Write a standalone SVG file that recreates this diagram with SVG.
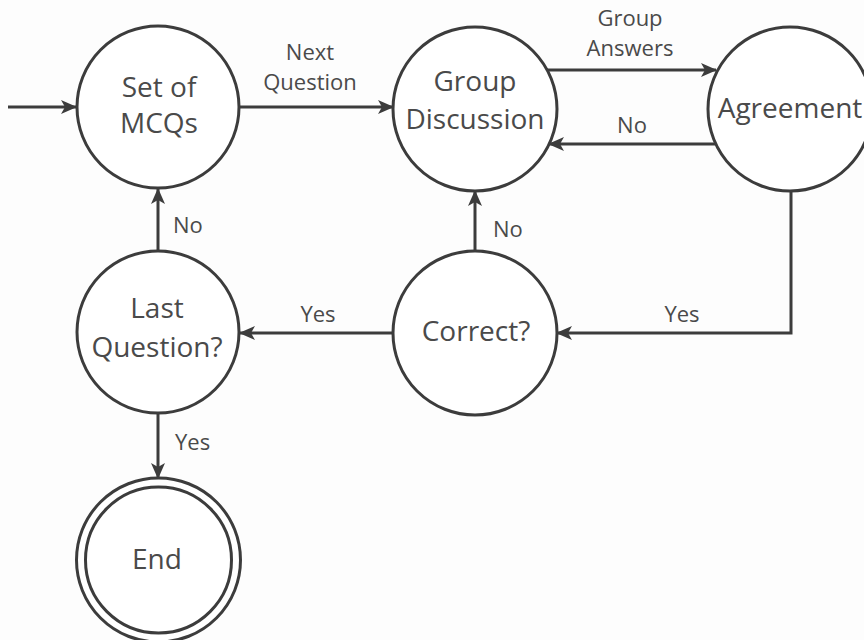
<svg xmlns="http://www.w3.org/2000/svg" width="864" height="640" viewBox="0 0 864 640">
  <style>
    .node { fill: #ffffff; stroke: #3c3c3c; stroke-width: 3; }
    .conn { fill: none; stroke: #3c3c3c; stroke-width: 3; }
    .nt { font-family: "Open Sans", "Noto Sans", "Liberation Sans", sans-serif; font-size: 28px; fill: #4a4a4a; text-anchor: middle; }
    .lt { font-family: "Open Sans", "Noto Sans", "Liberation Sans", sans-serif; font-size: 22px; fill: #4a4a4a; }
  </style>
  <defs>
    <marker id="arr" viewBox="0 0 16 14" refX="15" refY="7" markerWidth="16" markerHeight="14" markerUnits="userSpaceOnUse" orient="auto">
      <path d="M0,0 L16,7 L0,14 L4,7 Z" fill="#3c3c3c"/>
    </marker>
  </defs>
  <rect width="864" height="640" fill="#fdfdfd"/>

  <g id="connectors">
    <line class="conn" x1="8" y1="107" x2="76" y2="107" marker-end="url(#arr)"/>
    <line class="conn" x1="239" y1="107" x2="393" y2="107" marker-end="url(#arr)"/>
    <line class="conn" x1="547" y1="70" x2="716" y2="70" marker-end="url(#arr)"/>
    <line class="conn" x1="715" y1="144" x2="549" y2="144" marker-end="url(#arr)"/>
    <polyline class="conn" points="791,191 791,333 557,333" marker-end="url(#arr)"/>
    <line class="conn" x1="393" y1="333" x2="240" y2="333" marker-end="url(#arr)"/>
    <line class="conn" x1="475" y1="251" x2="475" y2="191" marker-end="url(#arr)"/>
    <line class="conn" x1="158" y1="251" x2="158" y2="189" marker-end="url(#arr)"/>
    <line class="conn" x1="158" y1="413" x2="158" y2="478" marker-end="url(#arr)"/>
    <text class="lt" x="310" y="60" text-anchor="middle">Next</text>
    <text class="lt" x="310" y="90" text-anchor="middle">Question</text>
    <text class="lt" x="630" y="26" text-anchor="middle">Group</text>
    <text class="lt" x="630" y="56" text-anchor="middle">Answers</text>
    <text class="lt" x="632" y="133" text-anchor="middle">No</text>
    <text class="lt" x="682" y="322" text-anchor="middle">Yes</text>
    <text class="lt" x="318" y="322" text-anchor="middle">Yes</text>
    <text class="lt" x="173" y="233">No</text>
    <text class="lt" x="493" y="237">No</text>
    <text class="lt" x="175" y="450">Yes</text>
  </g>

  <g id="set-of-mcqs">
    <circle class="node" cx="158" cy="107" r="81"/>
    <text class="nt" x="159" y="97">Set of</text>
    <text class="nt" x="159" y="133">MCQs</text>
  </g>
  <g id="group-discussion">
    <circle class="node" cx="475" cy="109" r="82"/>
    <text class="nt" x="475" y="91">Group</text>
    <text class="nt" x="475" y="129">Discussion</text>
  </g>
  <g id="agreement">
    <circle class="node" cx="790" cy="109" r="82"/>
    <text class="nt" x="790" y="118">Agreement</text>
  </g>
  <g id="last-question">
    <circle class="node" cx="158" cy="332" r="81"/>
    <text class="nt" x="157" y="318">Last</text>
    <text class="nt" x="157" y="357">Question?</text>
  </g>
  <g id="correct">
    <circle class="node" cx="475" cy="333" r="82"/>
    <text class="nt" x="476" y="341">Correct?</text>
  </g>
  <g id="end">
    <circle class="node" cx="158.5" cy="560" r="82"/>
    <circle class="node" cx="158.5" cy="560" r="73" fill="none"/>
    <text class="nt" x="157" y="569">End</text>
  </g>
</svg>
